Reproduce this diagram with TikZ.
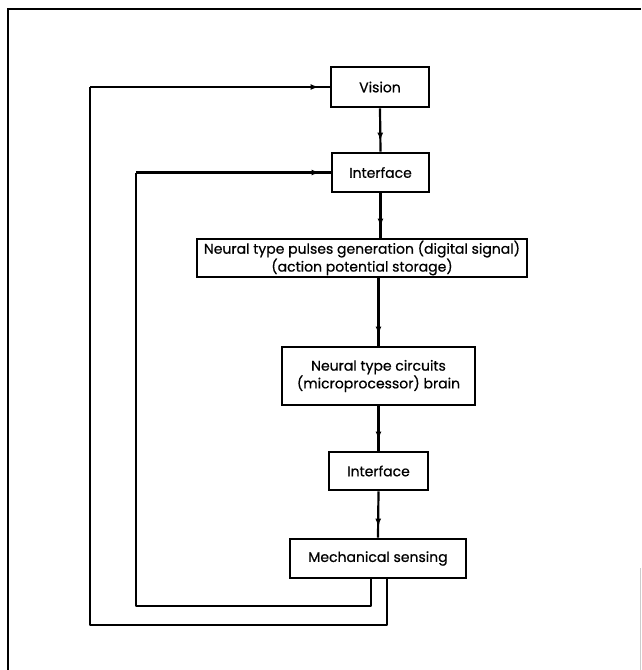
\documentclass[tikz,border=0pt]{standalone}
\usepackage{fontspec}
\setmainfont{Poppins}[FakeBold=0.6]
\usetikzlibrary{arrows.meta,decorations.markings,calc}
\begin{document}
\begin{tikzpicture}[x=1pt,y=-1pt,
  blk/.style={draw,line width=2.8pt,inner sep=0pt,align=center,
    font=\fontsize{14}{16.5}\selectfont},
  conn/.style={line width=2.2pt,postaction={decorate},
    decoration={markings,mark=at position -11pt with {\arrow{Latex[length=8pt,width=6pt]}}}},
  plain/.style={line width=2.2pt,line join=round}]
\useasboundingbox (0,0) rectangle (641,670);
% frame
\draw[line width=2.2pt] (8,670) -- (8,9) -- (641,9);
\draw[line width=0.6pt,black!20] (640,568) -- (640,670);
% boxes
\node[blk,minimum width=98pt,minimum height=40pt] (vis) at (380,87) {Vision};
\node[blk,minimum width=97pt,minimum height=39pt] (int1) at (380.5,172.5) {Interface};
\node[blk,minimum width=330pt,minimum height=38pt] (pul) at (362,258)
  {Neural type pulses generation (digital signal)\\(action potential storage)};
\node[blk,minimum width=193pt,minimum height=58pt] (cir) at (378.5,376)
  {Neural type circuits\\(microprocessor) brain};
\node[blk,minimum width=99pt,minimum height=38pt] (int2) at (378.5,471) {Interface};
\node[blk,minimum width=176pt,minimum height=39pt] (mech) at (378,558.5) {Mechanical sensing};
% forward connectors
\draw[conn] (vis.south) -- (int1.north);
\draw[conn] (int1.south) -- (int1.south |- pul.north);
\draw[conn] (cir.north |- pul.south) -- (cir.north);
\draw[conn] (cir.south) -- (int2.north);
\draw[conn] (int2.south) -- (mech.north);
% feedback loops
\coordinate (inS) at ($(mech.south)+(-7,0)$);
\coordinate (outS) at ($(mech.south)+(9,0)$);
\coordinate (inL) at (136,606);
\coordinate (outL) at (90,625);
\draw[plain] (inS) -- (inS |- inL) -- (inL) -- (inL |- int1.west);
\draw[conn] (inL |- int1.west) -- (int1.west);
\draw[plain] (outS) -- (outS |- outL) -- (outL) -- (outL |- vis.west);
\draw[conn] (outL |- vis.west) -- (vis.west);
\end{tikzpicture}
\end{document}
